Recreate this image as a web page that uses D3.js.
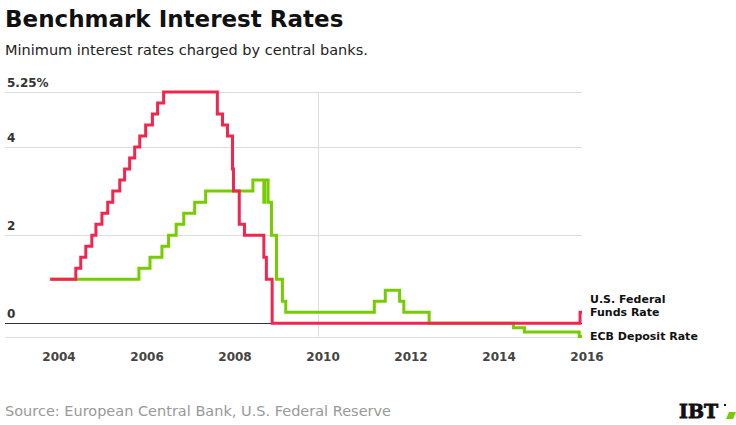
<!DOCTYPE html>
<html><head><meta charset="utf-8">
<script src="https://cdn.jsdelivr.net/npm/d3@7"></script>
<style>
body{margin:0;background:#fff;}
svg{display:block;font-family:"DejaVu Sans",sans-serif;}
</style></head><body>
<svg id="c" width="736" height="425"></svg>
<script>
const fedDates = ["2003-12-01","2004-06-30","2004-08-10","2004-09-21","2004-11-10","2004-12-14","2005-02-02","2005-03-22","2005-05-03","2005-06-30","2005-08-09","2005-09-20","2005-11-01","2005-12-13","2006-01-31","2006-03-28","2006-05-10","2006-06-29","2007-09-18","2007-10-31","2007-12-11","2008-01-22","2008-01-30","2008-03-18","2008-04-30","2008-10-08","2008-10-29","2008-12-16","2015-12-16","2016-01-01"];
const fedRates = [1.00,1.25,1.50,1.75,2.00,2.25,2.50,2.75,3.00,3.25,3.50,3.75,4.00,4.25,4.50,4.75,5.00,5.25,4.75,4.50,4.25,3.50,3.00,2.25,2.00,1.50,1.00,0.00,0.25,0.25];
const ecbDates = ["2003-12-01","2005-12-06","2006-03-08","2006-06-15","2006-08-09","2006-10-11","2006-12-13","2007-03-14","2007-06-13","2008-07-09","2008-10-08","2008-10-15","2008-11-12","2008-12-10","2009-01-21","2009-03-11","2009-04-08","2011-04-13","2011-07-13","2011-11-09","2011-12-14","2012-07-11","2014-06-11","2014-09-10","2015-12-09","2016-01-01"];
const ecbRates = [1.00,1.25,1.50,1.75,2.00,2.25,2.50,2.75,3.00,3.25,2.75,3.25,2.75,2.00,1.00,0.50,0.25,0.50,0.75,0.50,0.25,0.00,-0.10,-0.20,-0.30,-0.30];
const yTicks = [0,2,4,5.25];
const yTickLabels = ["0","2","4","5.25%"];
const xTickYears = [2004,2006,2008,2010,2012,2014,2016];
const seriesNames = [["U.S. Federal","Funds Rate"],["ECB Deposit Rate"]];

const parse = d3.utcParse("%Y-%m-%d");
const fed = fedDates.map((d,i)=>({date:parse(d),v:fedRates[i]}));
const ecb = ecbDates.map((d,i)=>({date:parse(d),v:ecbRates[i]}));

const svg = d3.select("#c");
const x = d3.scaleUtc().domain([new Date(Date.UTC(2004,0,1)), new Date(Date.UTC(2016,0,1))]).range([54,582]);
const y = d3.scaleLinear().domain([-0.3,5.25]).range([336.5,92]);

svg.append("text").attr("x",5).attr("y",27).attr("font-size",23).attr("font-weight","bold").attr("fill","#111").text("Benchmark Interest Rates");
svg.append("text").attr("x",5).attr("y",55).attr("font-size",14.5).attr("fill","#222").text("Minimum interest rates charged by central banks.");

// gridlines
const gl = svg.append("g");
yTicks.concat([-0.3]).forEach(t=>{
  gl.append("line").attr("x1",5).attr("x2",582).attr("y1",Math.round(y(t))+0.5).attr("y2",Math.round(y(t))+0.5)
    .attr("stroke", t===0 ? "#333" : "#ddd").attr("stroke-width",1);
});
gl.append("line").attr("x1",Math.round(x(new Date(Date.UTC(2010,0,1))))+0.5).attr("x2",Math.round(x(new Date(Date.UTC(2010,0,1))))+0.5)
  .attr("y1",y(5.25)).attr("y2",y(-0.3)).attr("stroke","#ddd");

yTicks.forEach((t,i)=>{
  svg.append("text").attr("x",7).attr("y",y(t)-5).attr("font-size",12).attr("font-weight","bold").attr("fill","#333").text(yTickLabels[i]);
});

const xAxis = d3.axisBottom(x).tickValues(xTickYears.map(yy=>new Date(Date.UTC(yy,0,1)))).tickFormat(d3.utcFormat("%Y")).tickSize(0);
const ax = svg.append("g").attr("transform","translate(0,349)").call(xAxis);
ax.select(".domain").remove();
ax.selectAll("text").attr("dx",4.5).attr("font-size",12).attr("font-weight","bold").attr("fill","#444").attr("font-family","DejaVu Sans");

const line = d3.line().x(d=>x(d.date)).y(d=>y(d.v)).curve(d3.curveStepAfter);
svg.append("path").datum(ecb).attr("d",line).attr("fill","none").attr("stroke","#77cc00").attr("stroke-width",3);
svg.append("path").datum(fed).attr("d",line).attr("fill","none").attr("stroke","#f0264f").attr("stroke-width",3);

const lab1 = svg.append("text").attr("x",590).attr("font-size",11).attr("font-weight","bold").attr("fill","#111");
seriesNames[0].forEach((s,i)=>lab1.append("tspan").attr("x",590).attr("y",303+i*13).text(s));
svg.append("text").attr("x",590).attr("y",340).attr("font-size",11).attr("font-weight","bold").attr("fill","#111").text(seriesNames[1][0]);

svg.append("text").attr("x",5).attr("y",416).attr("font-size",14.5).attr("fill","#999").text("Source: European Central Bank, U.S. Federal Reserve");
svg.append("text").attr("x",679).attr("y",418).attr("font-size",19).attr("font-weight","bold").attr("font-family","DejaVu Serif").attr("fill","#111").attr("stroke","#111").attr("stroke-width",0.8).text("IBT");
svg.append("path").attr("d","M726,419 L729,412 L736,412 L733,419 Z").attr("fill","#77cc00");
svg.append("rect").attr("x",724).attr("y",404).attr("width",2).attr("height",2).attr("fill","#111");
</script>
</body></html>
